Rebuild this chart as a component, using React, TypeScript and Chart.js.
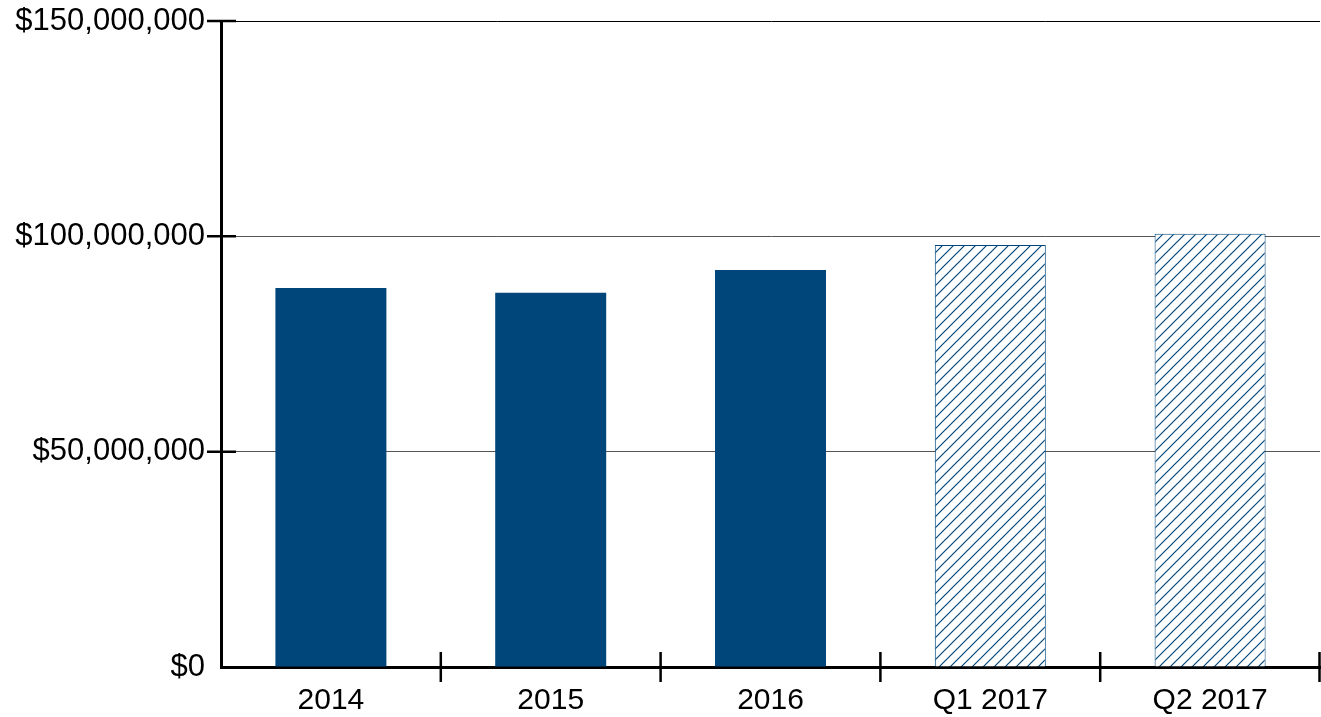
import React, { useEffect, useRef } from "react";
import { Chart, registerables } from "chart.js";

Chart.register(...registerables);

const categories = ["2014", "2015", "2016", "Q1 2017", "Q2 2017"];
const values = [88000000, 86900000, 92200000, 98000000, 100600000];
const projected = [false, false, false, true, true];
const yTicks = [0, 50000000, 100000000, 150000000];

const BLUE = "#00467a";
const FONT = "'Liberation Sans', Arial, sans-serif";

function makeHatch(): CanvasPattern | string {
  const c = document.createElement("canvas");
  const s = 11;
  c.width = s;
  c.height = s;
  const ctx = c.getContext("2d");
  if (!ctx) return BLUE;
  ctx.fillStyle = "#ffffff";
  ctx.fillRect(0, 0, s, s);
  ctx.strokeStyle = BLUE;
  ctx.lineWidth = 1.2;
  ctx.beginPath();
  ctx.moveTo(-1, s + 1);
  ctx.lineTo(s + 1, -1);
  ctx.moveTo(-1, 1);
  ctx.lineTo(1, -1);
  ctx.moveTo(s - 1, s + 1);
  ctx.lineTo(s + 1, s - 1);
  ctx.stroke();
  const p = ctx.createPattern(c, "repeat");
  return p || BLUE;
}

const crossTicks = {
  id: "crossTicks",
  afterDraw(chart: any) {
    const ctx = chart.ctx;
    const xs = chart.scales.x;
    const ys = chart.scales.y;
    const area = chart.chartArea;
    ctx.save();
    ctx.strokeStyle = "#000";
    ctx.lineWidth = 2.5;
    ctx.beginPath();
    yTicks.forEach((v) => {
      if (v === 0) return;
      const y = ys.getPixelForValue(v);
      ctx.moveTo(area.left - 14, y);
      ctx.lineTo(area.left + 15, y);
    });
    const half = (xs.getPixelForValue(1) - xs.getPixelForValue(0)) / 2;
    categories.forEach((_, i) => {
      const x = Math.min(xs.getPixelForValue(i) + half, chart.width - 1.5);
      ctx.moveTo(x, area.bottom - 15);
      ctx.lineTo(x, area.bottom + 15);
    });
    ctx.stroke();
    ctx.restore();
  },
};

export default function App() {
  const ref = useRef<HTMLCanvasElement>(null);
  useEffect(() => {
    if (!ref.current) return;
    const hatch = makeHatch();
    const chart = new Chart(ref.current, {
      type: "bar",
      data: {
        labels: categories,
        datasets: [
          {
            data: values,
            backgroundColor: projected.map((p) => (p ? hatch : BLUE)) as any,
            borderColor: BLUE,
            borderWidth: projected.map((p) => (p ? 1 : 0)) as any,
            barPercentage: 0.505,
            categoryPercentage: 1,
          },
        ],
      },
      options: {
        animation: false,
        responsive: false,
        maintainAspectRatio: false,
        layout: { padding: { top: 21, right: 1, left: 0, bottom: 0 } },
        plugins: {
          legend: { display: false },
          tooltip: { enabled: false },
        },
        scales: {
          x: {
            offset: true,
            grid: { display: false, drawTicks: false },
            border: { display: true, color: "#000", width: 3 },
            ticks: {
              color: "#000",
              font: { family: FONT, size: 30 },
              padding: 16,
              maxRotation: 0,
            },
            afterFit: (s: any) => {
              s.height = 50;
              s.paddingLeft = 0;
              s.paddingRight = 0;
            },
          },
          y: {
            min: 0,
            max: 150000000,
            afterBuildTicks: (s: any) => {
              s.ticks = yTicks.map((v) => ({ value: v }));
            },
            grid: {
              drawTicks: false,
              lineWidth: 1,
              color: (c: any) =>
                c.tick && c.tick.value === 150000000 ? "#000" : "#555",
            },
            border: { display: true, color: "#000", width: 3 },
            ticks: {
              color: "#000",
              font: { family: FONT, size: 31 },
              padding: 16,
              callback: (v: any) => "$" + Number(v).toLocaleString("en-US"),
            },
            afterFit: (s: any) => {
              s.width = 221;
              s.paddingTop = 0;
              s.paddingBottom = 0;
            },
          },
        },
      },
      plugins: [crossTicks],
    });
    return () => chart.destroy();
  }, []);
  return (
    <div style={{ position: "fixed", left: 0, top: 0, width: 1321, height: 717, background: "#fff" }}>
      <canvas ref={ref} width={1321} height={717} style={{ display: "block" }} />
    </div>
  );
}
